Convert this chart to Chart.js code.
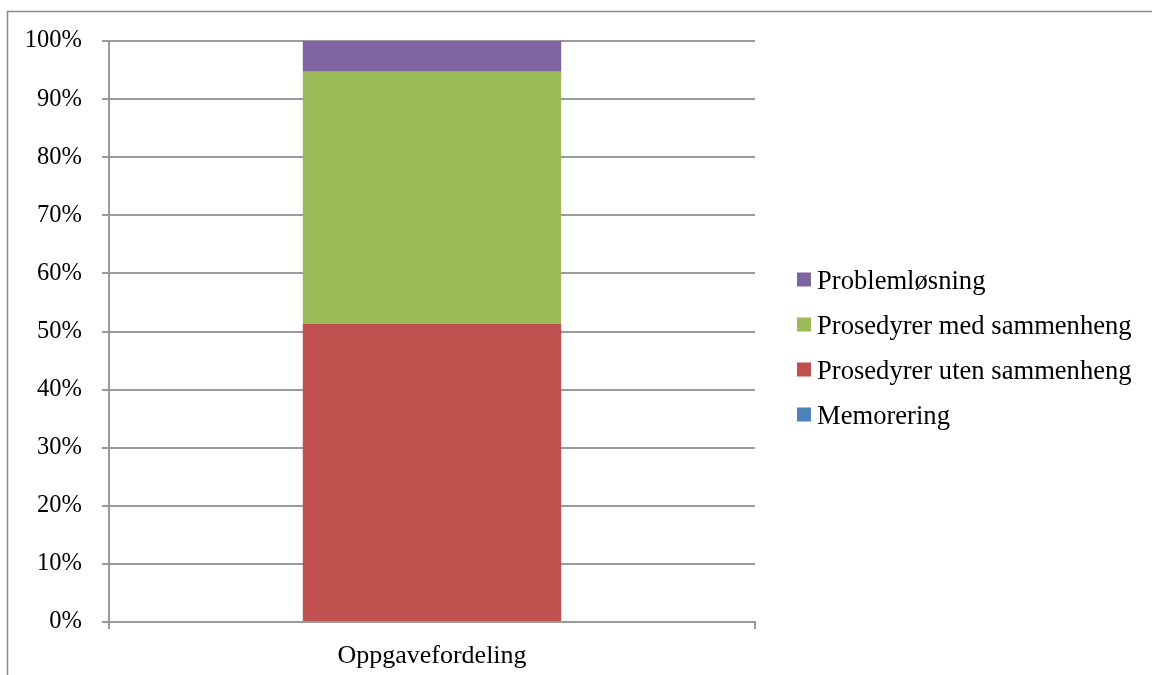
<!DOCTYPE html>
<html>
<head>
<meta charset="utf-8">
<script src="https://cdn.jsdelivr.net/npm/chart.js@4/dist/chart.umd.min.js"></script>
<style>
  html, body { margin: 0; padding: 0; background: #ffffff; }
  #wrap { width: 1152px; height: 675px; position: relative; }
</style>
</head>
<body>
<div id="wrap"><canvas id="c" width="1152" height="675"></canvas></div>
<script>
// Task distribution (share of tasks, %)
const categories = ['Oppgavefordeling'];
const seriesNames = ['Memorering', 'Prosedyrer uten sammenheng', 'Prosedyrer med sammenheng', 'Problemløsning'];
const memorering = [0];
const prosedyrerUten = [51.3];
const prosedyrerMed = [43.4];
const problemlosning = [5.3];
const yTickValues = [0, 10, 20, 30, 40, 50, 60, 70, 80, 90, 100];

const seriesValues = [memorering, prosedyrerUten, prosedyrerMed, problemlosning];
const seriesColors = ['#4F81BD', '#C0504D', '#9BBB59', '#8064A2'];

const FONT = "'Liberation Serif', 'Times New Roman', serif";
const GRID = '#9a9a9a';

// Outer frame around the chart
const framePlugin = {
  id: 'frame',
  beforeDraw(chart) {
    const ctx = chart.ctx;
    ctx.save();
    ctx.fillStyle = '#ffffff';
    ctx.fillRect(0, 0, chart.width, chart.height);
    ctx.strokeStyle = '#8c8c8c';
    ctx.lineWidth = 1.5;
    ctx.strokeRect(7.5, 11.5, chart.width + 20, chart.height + 20);
    ctx.restore();
  }
};

// Legend on the right, top series listed first
const sideLegend = {
  id: 'sideLegend',
  afterDraw(chart) {
    const ctx = chart.ctx;
    const ds = chart.data.datasets.slice().reverse();
    ctx.save();
    ctx.font = '26.6px ' + FONT;
    ctx.textBaseline = 'alphabetic';
    ctx.textAlign = 'left';
    ds.forEach((d, i) => {
      const cy = 279.5 + i * 45;
      ctx.fillStyle = d.backgroundColor;
      ctx.fillRect(797, cy - 7, 14, 14);
      ctx.fillStyle = '#000000';
      ctx.fillText(d.label, 817, cy + 9);
    });
    ctx.restore();
  }
};

new Chart(document.getElementById('c'), {
  type: 'bar',
  data: {
    labels: categories,
    datasets: seriesNames.map((name, i) => ({
      label: name,
      data: seriesValues[i],
      backgroundColor: seriesColors[i],
      borderWidth: 0,
      barPercentage: 0.4,
      categoryPercentage: 1.0
    }))
  },
  options: {
    responsive: false,
    animation: false,
    layout: { padding: { left: 0, top: 41, right: 397, bottom: 0 } },
    plugins: {
      legend: { display: false },
      tooltip: { enabled: false }
    },
    scales: {
      x: {
        stacked: true,
        offset: true,
        afterFit(scale) { scale.height = 53; },
        grid: { display: true, drawOnChartArea: false, drawTicks: true, tickLength: 7, color: GRID, lineWidth: 2, offset: true },
        border: { display: true, color: GRID, width: 2 },
        ticks: { color: '#000000', padding: 12, font: { family: FONT, size: 26 } }
      },
      y: {
        stacked: true,
        min: 0,
        max: 100,
        afterFit(scale) { scale.width = 109; },
        afterBuildTicks(scale) { scale.ticks = yTickValues.map(v => ({ value: v })); },
        grid: { display: true, drawOnChartArea: true, drawTicks: true, tickLength: 7, color: GRID, lineWidth: 2 },
        border: { display: true, color: GRID, width: 2 },
        ticks: {
          color: '#000000',
          padding: 20,
          font: { family: FONT, size: 24.5 },
          callback: v => v + '%'
        }
      }
    }
  },
  plugins: [framePlugin, sideLegend]
});
</script>
</body>
</html>
